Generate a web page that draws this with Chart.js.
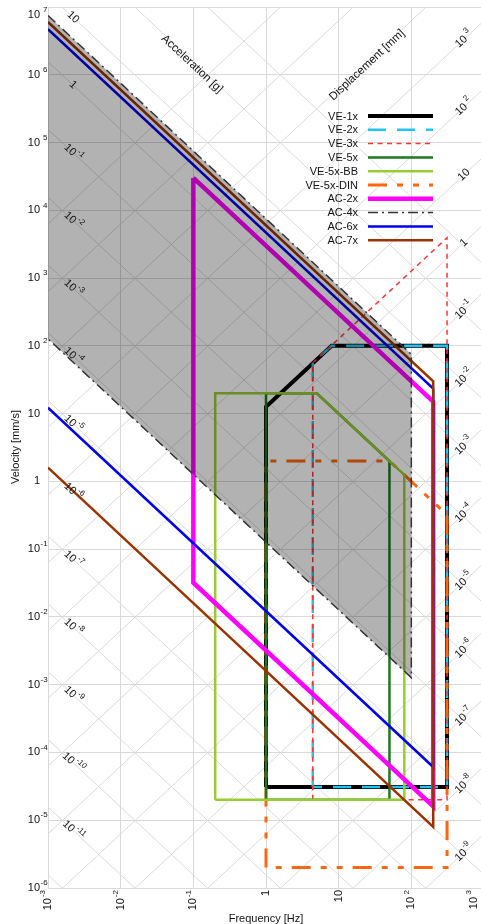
<!DOCTYPE html>
<html>
<head>
<meta charset="utf-8">
<script src="https://cdn.jsdelivr.net/npm/chart.js@4.4.0/dist/chart.umd.min.js"></script>
<style>
  html, body { margin: 0; padding: 0; background: #fff; overflow: hidden; }
  #wrap { width: 500px; height: 924px; position: relative; }
</style>
</head>
<body>
<div id="wrap"><canvas id="canvas"></canvas></div>
<script>
var FONT = '"Liberation Sans", Arial, sans-serif';

// axis ticks (decade exponents)
var freqExp = [-3, -2, -1, 0, 1, 2, 3];
var velExp = [7, 6, 5, 4, 3, 2, 1, 0, -1, -2, -3, -4, -5, -6];
// labelled diagonal lines: acceleration [g] and displacement [mm]
var accelLabelExp = [1, 0, -1, -2, -3, -4, -5, -6, -7, -8, -9, -10, -11];
var dispLabelExp = [3, 2, 1, 0, -1, -2, -3, -4, -5, -6, -7, -8, -9];

// series: frequency [Hz] / velocity [mm/s]
var ve1xF = [1, 1, 8, 310, 310, 1];
var ve1xV = [3.1e-5, 12.6, 100, 100, 3.1e-5, 3.1e-5];
var ve2xF = [4.4, 4.4, 8, 310, 310, 4.4];
var ve2xV = [3.1e-5, 56, 100, 100, 3.1e-5, 3.1e-5];
var ve3xF = [4.4, 4.4, 310, 310, 4.4];
var ve3xV = [2e-5, 56, 3940, 2e-5, 2e-5];
var ve5xF = [1, 1, 5, 50, 50, 1];
var ve5xV = [2e-5, 20, 20, 2, 2e-5, 2e-5];
var ve5xBBF = [0.2, 0.2, 5, 80, 80, 0.2];
var ve5xBBV = [2e-5, 20, 20, 1.25, 2e-5, 2e-5];
var ve5xDINF = [1, 1, 50, 310, 310, 1];
var ve5xDINV = [2e-6, 2, 2, 0.32, 2e-6, 2e-6];
var ac2xF = [0.1, 200, 200, 0.1, 0.1];
var ac2xV = [3e4, 15, 1.6e-5, 0.032, 3e4];
var ac4xF = [1e-3, 100, 100, 1e-3];
var ac4xV = [7.5e6, 75, 1.27e-3, 127];
var ac6xF = [1e-3, 200, 200, 1e-3];
var ac6xV = [4.7e6, 23.5, 6.1e-5, 12.2];
var ac7xF = [1e-3, 200, 200, 1e-3];
var ac7xV = [6e6, 30, 8e-6, 1.6];

function pts(F, V) {
  return F.map(function(f, i) { return { x: f, y: V[i] }; });
}

function accelVel(g, f) { return g * 9810 / (2 * Math.PI * f); }
function dispVel(d, f) { return 2 * Math.PI * f * d; }

function powText(e) {
  if (e === 0) return ['1', ''];
  if (e === 1) return ['10', ''];
  return ['10', String(e)];
}

function drawPow(ctx, e, px, py, angle, align, size) {
  var t = powText(e);
  var es = Math.round(size * 0.75);
  ctx.save();
  ctx.translate(px, py);
  ctx.rotate(angle);
  ctx.textBaseline = 'middle';
  ctx.textAlign = 'left';
  ctx.font = size + 'px ' + FONT;
  var wb = ctx.measureText(t[0]).width;
  ctx.font = es + 'px ' + FONT;
  var gap = e > 0 ? 2.5 : 1;
  var we = t[1] ? ctx.measureText(t[1]).width + gap : 0;
  var w = wb + we;
  var sx = align === 'center' ? -w / 2 : (align === 'right' ? -w : 0);
  ctx.font = size + 'px ' + FONT;
  ctx.fillText(t[0], sx, 0);
  if (t[1]) {
    ctx.font = es + 'px ' + FONT;
    ctx.fillText(t[1], sx + wb + gap, -size * 0.45);
  }
  ctx.restore();
}

var nomoPlugin = {
  id: 'nomo',
  beforeDatasetsDraw: function(chart) {
    var ctx = chart.ctx, a = chart.chartArea, x = chart.scales.x, y = chart.scales.y;
    var f0 = 1e-3, f1 = 1e3;
    ctx.save();
    ctx.beginPath();
    ctx.rect(a.left, a.top, a.right - a.left, a.bottom - a.top);
    ctx.clip();
    ctx.strokeStyle = '#d9d9d9';
    ctx.lineWidth = 1;
    for (var e = -14; e <= 3; e++) {
      var g = Math.pow(10, e);
      ctx.beginPath();
      ctx.moveTo(x.getPixelForValue(f0), y.getPixelForValue(accelVel(g, f0)));
      ctx.lineTo(x.getPixelForValue(f1), y.getPixelForValue(accelVel(g, f1)));
      ctx.stroke();
    }
    for (var k = -12; k <= 6; k++) {
      var d = Math.pow(10, k);
      ctx.beginPath();
      ctx.moveTo(x.getPixelForValue(f0), y.getPixelForValue(dispVel(d, f0)));
      ctx.lineTo(x.getPixelForValue(f1), y.getPixelForValue(dispVel(d, f1)));
      ctx.stroke();
    }
    ctx.restore();
  },
  afterDraw: function(chart) {
    var ctx = chart.ctx, a = chart.chartArea, x = chart.scales.x, y = chart.scales.y;
    var ang = Math.atan2(
      y.getPixelForValue(accelVel(1, 1e-2)) - y.getPixelForValue(accelVel(1, 1e-3)),
      x.getPixelForValue(1e-2) - x.getPixelForValue(1e-3));
    ctx.save();
    ctx.fillStyle = '#111';

    // acceleration labels (left)
    var axp = 73, afv = x.getValueForPixel(axp);
    accelLabelExp.forEach(function(e) {
      var py = y.getPixelForValue(accelVel(Math.pow(10, e), afv));
      drawPow(ctx, e, axp, py, ang, 'center', 11);
    });
    // displacement labels (right)
    var dxp = 464, dfv = x.getValueForPixel(dxp);
    dispLabelExp.forEach(function(e) {
      var py = y.getPixelForValue(dispVel(Math.pow(10, e), dfv));
      drawPow(ctx, e, dxp, py, -ang, 'center', 11);
    });

    // y tick labels
    velExp.forEach(function(e) {
      var py = Math.max(y.getPixelForValue(Math.pow(10, e)), 15);
      var t = powText(e);
      ctx.font = '11px ' + FONT;
      ctx.textAlign = 'right';
      ctx.textBaseline = 'middle';
      ctx.fillText(t[0], 40, py);
      if (t[1]) {
        ctx.font = '8px ' + FONT;
        ctx.textAlign = 'left';
        ctx.fillText(t[1], e > 0 ? 43 : 40.5, py - 5);
      }
    });
    // x tick labels
    freqExp.forEach(function(e) {
      var px = Math.min(x.getPixelForValue(Math.pow(10, e)), 474);
      drawPow(ctx, e, px, a.bottom + 2, -Math.PI / 2, 'right', 11);
    });

    // axis titles
    ctx.font = '11px ' + FONT;
    ctx.textAlign = 'center';
    ctx.textBaseline = 'middle';
    ctx.fillText('Frequency [Hz]', 266, 919);
    ctx.save();
    ctx.translate(16, 447);
    ctx.rotate(-Math.PI / 2);
    ctx.fillText('Velocity [mm/s]', 0, 0);
    ctx.restore();
    ctx.font = '11.5px ' + FONT;
    ctx.save();
    ctx.translate(192, 64);
    ctx.rotate(ang);
    ctx.fillText('Acceleration [g]', 0, 0);
    ctx.restore();
    ctx.save();
    ctx.translate(367, 65);
    ctx.rotate(-ang);
    ctx.fillText('Displacement [mm]', 0, 0);
    ctx.restore();

    // legend
    var lx0 = 368, lx1 = 433, ltx = 358, ly0 = 116, ldy = 13.8;
    chart.data.datasets.forEach(function(ds, i) {
      var ly = ly0 + i * ldy;
      ctx.font = '11px ' + FONT;
      ctx.textAlign = 'right';
      ctx.textBaseline = 'middle';
      ctx.fillStyle = '#111';
      ctx.fillText(ds.label, ltx, ly + 0.5);
      ctx.save();
      ctx.strokeStyle = ds.borderColor;
      ctx.lineWidth = ds.borderWidth;
      ctx.setLineDash(ds.borderDash || []);
      ctx.beginPath();
      ctx.moveTo(lx0, ly);
      ctx.lineTo(lx1, ly);
      ctx.stroke();
      ctx.restore();
    });
    ctx.restore();
  }
};

function series(label, F, V, color, width, dash, order) {
  return {
    label: label,
    data: pts(F, V),
    borderColor: color,
    borderWidth: width,
    borderDash: dash,
    pointRadius: 0,
    fill: false,
    tension: 0,
    order: order
  };
}

var datasets = [
  series('VE-1x', ve1xF, ve1xV, '#000000', 4, [], 10),
  series('VE-2x', ve2xF, ve2xV, '#22c4f0', 2.5, [18, 11], 9),
  series('VE-3x', ve3xF, ve3xV, '#ff3333', 1.5, [5, 4.5], 8),
  series('VE-5x', ve5xF, ve5xV, '#1b7a1b', 2.5, [], 6),
  series('VE-5x-BB', ve5xBBF, ve5xBBV, '#99cc33', 2.5, [], 5),
  series('VE-5x-DIN', ve5xDINF, ve5xDINV, '#ff6611', 3, [19, 10, 6, 10, 6, 10], 7),
  series('AC-2x', ac2xF, ac2xV, '#ff00ff', 4.5, [], 4),
  series('AC-4x', ac4xF, ac4xV, '#333333', 1.5, [10, 4, 2, 4], 1),
  series('AC-6x', ac6xF, ac6xV, '#0000ee', 2.5, [], 3),
  series('AC-7x', ac7xF, ac7xV, '#993300', 2.5, [], 2)
];
datasets[7].fill = 'shape';
datasets[7].backgroundColor = 'rgba(0,0,0,0.3)';

var chartInstance = new Chart(document.getElementById('canvas'), {
  type: 'line',
  data: { datasets: datasets },
  options: {
    responsive: true,
    maintainAspectRatio: false,
    animation: false,
    devicePixelRatio: 1,
    layout: { padding: { top: 7, right: 16, left: 0, bottom: 0 } },
    plugins: { legend: { display: false }, tooltip: { enabled: false } },
    scales: {
      x: {
        type: 'logarithmic',
        min: 1e-3,
        max: 1e3,
        afterBuildTicks: function(s) {
          s.ticks = freqExp.map(function(e) { return { value: Math.pow(10, e) }; });
        },
        afterFit: function(s) { s.height = 36; },
        ticks: { display: false },
        grid: { color: '#d9d9d9', lineWidth: 1, drawTicks: false },
        border: { display: false }
      },
      y: {
        type: 'logarithmic',
        min: 1e-6,
        max: 1e7,
        afterBuildTicks: function(s) {
          s.ticks = velExp.map(function(e) { return { value: Math.pow(10, e) }; });
        },
        afterFit: function(s) { s.width = 48; },
        ticks: { display: false },
        grid: { color: '#d9d9d9', lineWidth: 1, drawTicks: false },
        border: { display: false }
      }
    }
  },
  plugins: [nomoPlugin]
});
</script>
</body>
</html>
